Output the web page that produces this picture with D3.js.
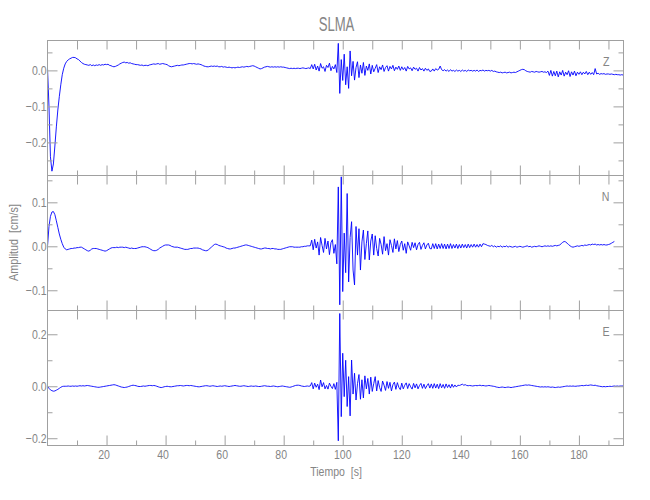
<!DOCTYPE html>
<html><head><meta charset="utf-8">
<script src="https://cdn.jsdelivr.net/npm/d3@7"></script>
<style>body{margin:0;background:#fff} text{white-space:pre}</style>
</head><body>
<svg id="chart" width="650" height="500"></svg>
<script>
// ---------------- data ----------------
const title = "SLMA";
const xLabel = "Tiempo  [s]";
const yLabel = "Amplitud  [cm/s]";
const components = ["Z", "N", "E"];
const t0 = 0, dt = 0.5;               // sample start and spacing (s)

const zValues = [
.006,-.10,-.24,-.28,-.26,-.21,-.157,-.11,-.073,-.04,-.012,.006,.018,.025,.029,.032,.034,.036,.036,.035,
.032,.030,.026,.022,.019,.017,.016,.015,.014,.016,.013,.015,.013,.015,.014,.016,.014,.016,.015,.017,
.016,.017,.014,.013,.011,.010,.011,.013,.015,.018,.020,.022,.023,.021,.022,.020,.021,.019,.018,.017,
.016,.016,.015,.014,.015,.013,.014,.014,.013,.015,.016,.017,.018,.017,.018,.019,.017,.018,.019,.018,
.017,.016,.013,.011,.010,.011,.012,.013,.014,.013,.014,.015,.015,.016,.017,.018,.019,.019,.018,.019,
.018,.017,.018,.017,.016,.014,.012,.011,.010,.010,.011,.012,.011,.012,.011,.012,.010,.010,.011,.009,
.010,.009,.008,.009,.008,.007,.008,.007,.008,.009,.008,.009,.010,.009,.010,.011,.010,.011,.012,.013,
.012,.010,.008,.006,.004,.005,.007,.009,.010,.011,.010,.009,.010,.009,.010,.009,.010,.009,.010,.009,
.009,.008,.007,.006,.005,.006,.005,.006,.005,.006,.006,.005,.006,.007,.006,.005,.006,.007,.005,.016,
.004,.017,.001,.012,-.002,.019,.006,.010,-.003,.014,.008,.020,-.001,.011,.004,.016,-.006,.075,-.064,.030,
-.028,.045,-.040,.010,-.050,.054,-.015,.025,-.027,.008,.024,-.020,.015,-.008,.022,-.014,.012,.000,.018,-.010,
.014,-.004,.006,.016,-.006,.010,.002,.015,-.003,.008,.013,-.002,.011,.004,.014,-.001,.009,.003,.012,.000,
.010,.002,.008,-.002,.011,.004,.007,-.001,.009,.003,.006,-.002,.008,.001,.005,-.002,.006,.000,.004,-.003,
-.002,.004,-.002,.005,.001,.003,.012,.002,-.001,.002,-.002,.001,-.003,.002,-.002,.000,-.003,.001,-.002,.000,
-.003,.001,-.002,.000,-.003,.001,-.001,.000,-.002,.000,-.002,.001,-.003,.000,-.001,.001,-.002,.000,-.001,.000,
-.002,.000,-.003,-.002,-.004,-.005,-.006,-.005,-.007,-.006,-.005,-.007,-.006,-.005,-.007,-.006,-.005,-.006,-.004,-.002,
.000,.002,.003,.002,-.001,-.003,-.004,-.005,-.003,-.004,-.005,-.003,-.004,-.005,-.004,-.003,-.005,-.004,-.006,-.002,
-.014,.000,-.016,-.003,-.015,-.002,-.018,-.004,-.013,.000,-.016,-.005,-.012,-.001,-.017,-.004,-.013,-.002,-.015,-.005,
-.011,-.004,-.012,-.005,-.010,-.003,-.012,-.005,-.011,-.006,-.012,.005,-.010,-.008,-.011,-.009,-.010,-.009,-.011,-.010,
-.010,-.011,-.010,-.011,-.012,-.011,-.012,-.012,-.013,-.012,-.013
];

const nValues = [
.000,.045,.068,.078,.079,.072,.058,.043,.028,.016,.006,-.002,-.006,-.008,-.007,-.006,-.005,-.005,-.004,-.004,
-.003,-.003,-.002,-.002,-.004,-.006,-.008,-.010,-.011,-.009,-.006,-.005,-.005,-.005,-.006,-.007,-.008,-.009,-.010,-.011,
-.010,-.008,-.006,-.004,-.003,-.003,-.003,-.002,-.003,-.002,-.002,-.002,-.003,-.002,-.003,-.004,-.005,-.004,-.005,-.005,
-.005,-.004,-.003,-.002,-.001,-.001,-.001,-.002,-.003,-.005,-.007,-.009,-.010,-.010,-.009,-.007,-.004,-.002,.000,.002,
.003,.003,.003,.002,.000,-.001,-.002,-.002,-.002,-.003,-.004,-.005,-.006,-.007,-.007,-.007,-.006,-.005,-.005,-.004,
-.004,-.004,-.004,-.005,-.006,-.008,-.009,-.010,-.010,-.008,-.005,-.002,.001,.004,.005,.004,.002,.001,.000,-.001,
-.002,-.004,-.005,-.006,-.006,-.005,-.004,-.004,-.003,-.002,-.001,.000,.001,.002,.003,.003,.002,.001,.000,-.001,
-.002,-.003,-.004,-.005,-.006,-.006,-.005,-.004,-.004,-.005,-.005,-.006,-.005,-.005,-.006,-.006,-.007,-.007,-.007,-.006,
-.005,-.004,-.003,-.002,-.001,-.001,-.001,-.002,-.002,-.002,-.002,-.002,-.001,-.001,.000,.000,.001,.001,.001,.014,
-.008,.016,-.004,.010,-.020,.020,.002,-.014,.018,-.006,.012,-.019,.008,.015,-.016,.004,-.040,.135,-.133,.158,
-.103,.030,-.060,.120,-.081,.020,.056,-.054,-.088,.045,-.020,.040,-.054,.010,.037,-.030,.006,.035,-.031,.012,
.028,-.020,.024,-.005,-.022,.018,.004,-.018,.022,-.010,.006,-.020,.015,.002,-.014,.017,-.006,.013,-.012,.004,
.012,-.009,.006,-.016,.010,.001,-.009,.009,-.003,.008,-.008,.004,.009,-.007,.002,.008,-.006,.003,.007,-.005,
-.006,.006,-.005,.006,-.006,.005,-.005,.006,-.005,.005,-.006,.005,-.005,.006,-.005,.004,-.004,.005,-.005,.004,
-.004,.005,-.003,.004,-.004,.005,-.003,.004,-.002,.005,-.002,.004,-.002,.005,-.001,.006,.005,.004,.002,.001,
.000,.002,-.001,.001,-.002,.000,-.001,.001,-.002,.000,-.001,.001,-.002,.000,-.001,-.002,-.001,.000,-.002,-.001,
.000,-.001,-.002,-.001,.000,.001,-.001,.000,-.002,-.001,.000,-.001,.000,.001,.000,-.001,.000,.001,.000,.001,
.000,.001,.000,.001,.002,.001,.002,.003,.006,.009,.011,.010,.007,.004,.001,-.001,-.002,-.001,.000,.001,
.000,.001,.002,.001,.003,.002,.003,.004,.003,.005,.004,.005,.003,.004,.003,.004,.003,.004,.003,.003,
.004,.005,.007,.009,.011
];

const eValues = [
.000,-.008,-.014,-.017,-.019,-.018,-.015,-.012,-.008,-.004,-.001,.000,.000,.000,.001,.000,.000,.001,.000,.001,
.000,.001,.002,.001,.002,.001,.002,.003,.002,.001,.000,-.001,-.002,-.003,-.004,-.004,-.003,-.002,-.001,.000,
.001,.002,.003,.004,.005,.006,.005,.003,.001,-.001,-.003,-.004,-.005,-.004,-.003,-.001,.001,.003,.004,.003,
.002,.000,-.001,-.001,.000,.001,.000,.001,.002,.003,.003,.002,.003,.002,.000,-.002,-.004,-.005,-.004,-.002,
-.001,.000,-.001,-.002,-.002,-.001,.000,.001,.002,.002,.003,.002,.001,.002,.003,.003,.002,.003,.002,.001,
.000,-.001,-.002,-.002,-.001,.000,.001,.002,.002,.001,.000,.001,.002,.001,.000,-.001,.000,.001,.000,.001,
.002,.001,.000,-.001,.000,.001,.002,.003,.002,.001,.000,.000,.001,.002,.001,.000,-.001,.000,.001,.000,
.000,.001,.000,-.001,-.001,.000,.001,.002,.001,.000,.000,-.001,.000,.001,.000,-.001,-.002,-.001,.000,.001,
.000,-.001,-.002,-.003,-.004,-.003,-.001,.001,.003,.004,.004,.003,.001,.000,-.001,.000,.001,.000,.001,.014,
-.010,.012,-.004,.008,-.013,.024,-.002,.014,-.010,.003,-.011,.012,.000,-.009,.010,-.012,.015,-.210,.280,-.117,
.127,-.040,.100,-.078,.037,-.114,.101,-.030,.050,-.053,.010,.045,-.050,.025,-.045,.040,-.010,.030,-.030,.035,
-.020,.010,.037,-.018,.022,-.005,-.020,.020,.004,-.016,.018,-.008,.015,-.018,.006,.016,-.012,.014,-.004,-.013,
.012,-.010,.004,.013,-.009,.010,-.002,-.011,.011,-.006,.009,-.010,.003,.011,-.008,.008,-.009,.002,.010,-.007,
.009,-.008,.010,-.007,.008,-.009,.010,-.006,.007,-.008,.009,-.005,.006,-.007,.008,-.004,.005,-.003,.004,.003,
.005,.008,.004,.006,.003,.002,.003,.002,.001,.002,.003,.002,.003,.004,.002,.003,.002,.001,.002,.003,
.002,.001,.000,-.001,-.003,-.004,-.005,-.004,-.003,-.004,-.005,-.004,-.003,-.004,-.005,-.004,-.003,-.002,-.001,.000,
.001,.002,.003,.004,.005,.004,.005,.004,.003,.002,.001,.000,-.001,-.002,-.003,-.002,-.003,-.002,-.003,-.002,
-.003,-.004,-.003,-.004,-.005,-.004,-.003,-.004,-.003,-.002,-.001,.000,.001,.000,.001,.000,.001,.000,.000,.001,
.001,.002,.003,.002,.003,.004,.003,.004,.005,.004,.003,.004,.002,.001,.000,-.001,-.002,-.001,-.002,-.001,
-.001,.000,-.001,.000,.001,.000,.001,.000,.001,.001,.001
];

const xDomain = [0, 195.1];
const zDomain = [-0.292, 0.083];
const nDomain = [-0.146, 0.161];
const eDomain = [-0.228, 0.2915];
const xMajorTicks = [20, 40, 60, 80, 100, 120, 140, 160, 180];
const xMinorTicks = [10, 30, 50, 70, 90, 110, 130, 150, 170, 190];
const zMajorTicks = [-0.2, -0.1, 0.0];
const zMinorTicks = [-0.25, -0.15, -0.05, 0.05];
const nMajorTicks = [-0.1, 0.0, 0.1];
const nMinorTicks = [-0.05, 0.05, 0.15];
const eMajorTicks = [-0.2, 0.0, 0.2];
const eMinorTicks = [-0.1, 0.1];

// ---------------- layout ----------------
const left = 47.5, right = 623.5;
const panelTops = [40.5, 175.5, 310.5];
const panelH = 135;
const axisColor = "#a0a0a0";
const textColor = "#858585";
const lineColor = "#0000ff";
const fontFamily = "'Liberation Sans', Arial, sans-serif";
const sx = 0.78;

const svg = d3.select("#chart");
const x = d3.scaleLinear().domain(xDomain).range([left, right]);

function addText(g, px, py, str, size, anchor, scaleX, rotate) {
  const tr = `translate(${px},${py})` + (rotate ? ` rotate(${rotate})` : "") + ` scale(${scaleX},1)`;
  return g.append("text")
    .attr("transform", tr)
    .attr("text-anchor", anchor)
    .attr("font-family", fontFamily)
    .attr("font-size", size)
    .attr("fill", textColor)
    .attr("xml:space", "preserve")
    .text(str);
}

const panels = [
  {name: components[0], values: zValues, domain: zDomain, major: zMajorTicks, minor: zMinorTicks},
  {name: components[1], values: nValues, domain: nDomain, major: nMajorTicks, minor: nMinorTicks},
  {name: components[2], values: eValues, domain: eDomain, major: eMajorTicks, minor: eMinorTicks}
];

const defs = svg.append("defs");
const fmt = v => (v < 0 ? "\u2212" : "") + Math.abs(v).toFixed(1);

panels.forEach((p, k) => {
  const top = panelTops[k], bottom = top + panelH;
  const y = d3.scaleLinear().domain(p.domain).range([bottom, top]);
  const g = svg.append("g");

  defs.append("clipPath").attr("id", "clip" + k)
    .append("rect").attr("x", left).attr("y", top).attr("width", right - left).attr("height", panelH);

  // trace
  const line = d3.line()
    .x((d, i) => x(t0 + i * dt))
    .y(d => y(d));
  g.append("path")
    .datum(p.values)
    .attr("clip-path", `url(#clip${k})`)
    .attr("fill", "none")
    .attr("stroke", lineColor)
    .attr("stroke-width", 0.9)
    .attr("stroke-linejoin", "round")
    .attr("d", line);

  // axes (ticks pointing inward)
  const styleAxis = sel => {
    sel.select(".domain").remove();
    sel.selectAll("line").attr("stroke", axisColor);
    sel.selectAll("text").remove();
  };
  const mk = (axisFn, scale, vals, len) => axisFn(scale).tickValues(vals).tickSizeInner(-len).tickSizeOuter(0).tickFormat("");
  g.append("g").attr("transform", `translate(${left},0)`).call(mk(d3.axisLeft, y, p.major, 10)).call(styleAxis);
  g.append("g").attr("transform", `translate(${left},0)`).call(mk(d3.axisLeft, y, p.minor, 5)).call(styleAxis);
  g.append("g").attr("transform", `translate(${right},0)`).call(mk(d3.axisRight, y, p.major, 10)).call(styleAxis);
  g.append("g").attr("transform", `translate(${right},0)`).call(mk(d3.axisRight, y, p.minor, 5)).call(styleAxis);
  g.append("g").attr("transform", `translate(0,${top})`).call(mk(d3.axisTop, x, xMajorTicks, 9)).call(styleAxis);
  g.append("g").attr("transform", `translate(0,${top})`).call(mk(d3.axisTop, x, xMinorTicks, 9)).call(styleAxis);
  g.append("g").attr("transform", `translate(0,${bottom})`).call(mk(d3.axisBottom, x, xMajorTicks, 10)).call(styleAxis);
  g.append("g").attr("transform", `translate(0,${bottom})`).call(mk(d3.axisBottom, x, xMinorTicks, 5)).call(styleAxis);

  // frame
  g.append("rect").attr("x", left).attr("y", top).attr("width", right - left).attr("height", panelH)
    .attr("fill", "none").attr("stroke", axisColor).attr("stroke-width", 1);

  // y tick labels
  p.major.forEach(v => {
    addText(g, left - 1, y(v) + 4.8, fmt(v), 13.5, "end", sx);
  });

  // component label
  addText(g, 609.5, top + 25.5, p.name, 12.5, "end", 0.85);

  // x tick labels on bottom panel
  if (k === panels.length - 1) {
    xMajorTicks.forEach(v => {
      addText(g, x(v) - (v < 100 ? 2.5 : 0), bottom + 13, String(v), 13.5, "middle", sx);
    });
  }
});

// titles
addText(svg, 336.5, 30.5, title, 20.5, "middle", 0.64);
addText(svg, 336, 475.5, xLabel, 13.5, "middle", 0.78);
addText(svg, 18, 242.5, yLabel, 13.5, "middle", 0.8, -90);
</script>
</body></html>
